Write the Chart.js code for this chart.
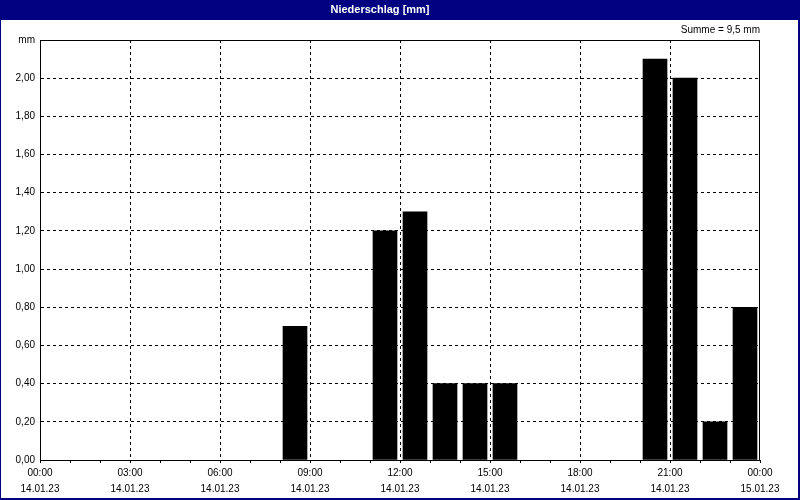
<!DOCTYPE html>
<html>
<head>
<meta charset="utf-8">
<script src="https://cdn.jsdelivr.net/npm/chart.js@4"></script>
<style>
  html, body { margin: 0; padding: 0; background: #fff; }
  #wrap { width: 800px; height: 500px; }
</style>
</head>
<body>
<div id="wrap"><canvas id="myChart" width="800" height="500"></canvas></div>
<script>
// hourly precipitation, bar centred in its hour
const hours = [8.5, 11.5, 12.5, 13.5, 14.5, 15.5, 20.5, 21.5, 22.5, 23.5];
const precip = [0.7, 1.2, 1.3, 0.4, 0.4, 0.4, 2.1, 2.0, 0.2, 0.8];
const timeLabels = ['00:00', '03:00', '06:00', '09:00', '12:00', '15:00', '18:00', '21:00', '00:00'];
const dateLabels = ['14.01.23', '14.01.23', '14.01.23', '14.01.23', '14.01.23', '14.01.23', '14.01.23', '14.01.23', '15.01.23'];
const chartTitle = 'Niederschlag [mm]';
const sumText = 'Summe = 9,5 mm';
const yUnit = 'mm';

const navy = '#000080';

const frame = {
    id: 'frame',
    beforeDraw(chart) {
        const c = chart.ctx;
        c.save();
        c.fillStyle = '#fff';
        c.fillRect(0, 0, 800, 500);
        c.fillStyle = navy;
        c.fillRect(0, 0, 800, 20);
        c.fillRect(0, 0, 1, 500);
        c.fillRect(798, 0, 2, 500);
        c.fillRect(0, 498, 800, 2);
        c.restore();
    },
    afterDatasetsDraw(chart) {
        const a = chart.chartArea;
        const c = chart.ctx;
        c.save();
        c.strokeStyle = '#000';
        c.lineWidth = 1;
        c.setLineDash([]);
        c.strokeRect(Math.round(a.left) + 0.5, Math.round(a.top) + 0.5,
            Math.round(a.right - a.left) - 1, Math.round(a.bottom - a.top));
        c.restore();
    }
};

const ctx = document.getElementById('myChart').getContext('2d');
const data = hours.map((h, i) => ({ x: h, y: precip[i] }));

new Chart(ctx, {
    type: 'bar',
    data: {
        datasets: [{
            data: data,
            backgroundColor: '#000',
            borderWidth: 0,
            barThickness: 24
        }]
    },
    plugins: [frame],
    options: {
        responsive: false,
        animation: false,
        layout: { padding: { left: 0, right: 40, top: 0, bottom: 0 } },
        plugins: {
            legend: { display: false },
            tooltip: { enabled: false },
            title: {
                display: true,
                text: chartTitle,
                color: '#fff',
                font: { family: 'Liberation Sans', size: 11, weight: 'bold', lineHeight: 1.2 },
                padding: { top: 3, bottom: 3.8 }
            },
            subtitle: {
                display: true,
                text: sumText,
                align: 'end',
                color: '#000',
                font: { family: 'Liberation Sans', size: 10, lineHeight: 1.2 },
                padding: { top: 4, bottom: 4 }
            }
        },
        scales: {
            x: {
                type: 'linear',
                min: 0,
                max: 24,
                offset: false,
                afterFit: s => { s.height = 40; },
                ticks: {
                    stepSize: 1,
                    autoSkip: false,
                    maxRotation: 0,
                    padding: 2,
                    color: '#000',
                    font: { family: 'Liberation Sans', size: 10, lineHeight: 1.6 },
                    callback: v => (v % 3 === 0) ? [timeLabels[v / 3], dateLabels[v / 3]] : ''
                },
                grid: {
                    offset: false,
                    color: c => (c.tick && c.tick.value % 3 === 0 && c.tick.value > 0 && c.tick.value < 24) ? '#000' : 'rgba(0,0,0,0)',
                    tickColor: '#000',
                    tickLength: 3,
                    lineWidth: 1
                },
                border: { display: true, color: '#000', dash: [3, 3] }
            },
            y: {
                min: 0,
                max: 2.2,
                afterFit: s => { s.width = 40; },
                ticks: {
                    stepSize: 0.2,
                    padding: 5,
                    color: '#000',
                    font: { family: 'Liberation Sans', size: 10 },
                    callback: v => v > 2.19 ? yUnit : v.toFixed(2).replace('.', ',')
                },
                grid: {
                    drawTicks: false,
                    color: c => (c.tick && c.tick.value > 0.01 && c.tick.value < 2.19) ? '#000' : 'rgba(0,0,0,0)',
                    lineWidth: 1
                },
                border: { display: true, color: '#000', dash: [3, 3] }
            }
        }
    }
});
</script>
</body>
</html>
